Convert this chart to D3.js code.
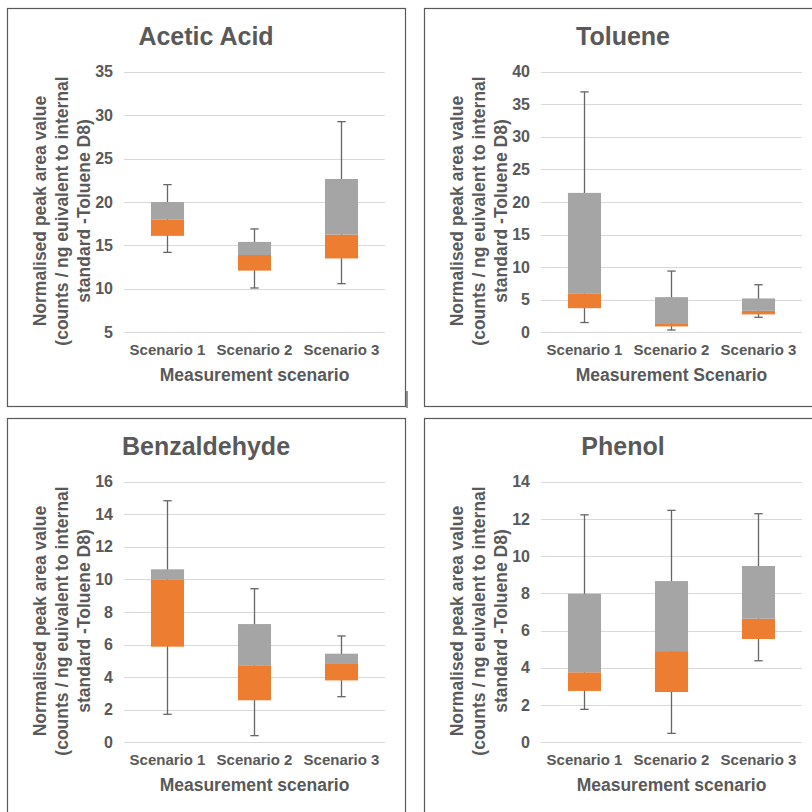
<!DOCTYPE html>
<html>
<head>
  <meta charset="utf-8">
  <title>Normalised peak areas</title>
  <script src="https://d3js.org/d3.v7.min.js"></script>
  <style>
    body { margin: 0; background: #fff; }
    text { font-family: "Liberation Sans", Arial, sans-serif; font-weight: bold; fill: #595959; }
    .grid line { stroke: #d9d9d9; stroke-width: 1px; shape-rendering: crispEdges; }
    .grid path, .cat path { display: none; }
    .frame { fill: none; stroke: #595959; stroke-width: 1.2px; }
    .whisker { stroke: #666; stroke-width: 1.3px; }
  </style>
</head>
<body>
  <script>
    var categories = ["Scenario 1", "Scenario 2", "Scenario 3"];
    var compounds = ["Acetic Acid", "Toluene", "Benzaldehyde", "Phenol"];
    var xTitles = ["Measurement scenario", "Measurement Scenario", "Measurement scenario", "Measurement scenario"];
    var yTitle = ["Normalised peak area value", "(counts / ng euivalent to internal", "standard -Toluene D8)"];

    // y axis range and tick step per compound
    var yDomains = [[5, 35], [0, 40], [0, 16], [0, 14]];
    var yStep = [5, 5, 2, 2];

    // box statistics, one row per compound, one value per scenario
    var minVals    = [[14.2, 10.1, 10.6], [1.5, 0.35, 2.3], [1.72, 0.41, 2.8], [1.77, 0.48, 4.38]];
    var q1Vals     = [[16.1, 12.1, 13.5], [3.7, 0.9, 2.75], [5.87, 2.58, 3.8], [2.76, 2.7, 5.55]];
    var medianVals = [[18.0, 13.9, 16.25], [5.9, 1.4, 3.3], [10.0, 4.73, 4.81], [3.76, 4.9, 6.64]];
    var q3Vals     = [[20.0, 15.4, 22.65], [21.4, 5.4, 5.2], [10.62, 7.26, 5.44], [7.98, 8.66, 9.47]];
    var maxVals    = [[22.0, 16.9, 29.25], [36.9, 9.4, 7.3], [14.83, 9.43, 6.53], [12.22, 12.46, 12.28]];

    var orange = "#ed7d31", grey = "#a5a5a5";
    var plotLeft = 124, plotRight = 385, plotTop = 71.7, plotBottom = 332.3;

    var svg = d3.select("body").append("svg")
        .attr("width", 812)
        .attr("height", 812);

    compounds.forEach(function(name, i) {
      var ox = (i % 2) * 417, oy = Math.floor(i / 2) * 410;
      var g = svg.append("g").attr("transform", "translate(" + ox + "," + oy + ")");

      g.append("rect")
          .attr("class", "frame")
          .attr("x", 7.5).attr("y", 8.5)
          .attr("width", 398).attr("height", 398);

      var x = d3.scaleBand()
          .domain(categories)
          .range([plotLeft, plotRight])
          .paddingInner(0.62)
          .paddingOuter(0.31);

      var y = d3.scaleLinear()
          .domain(yDomains[i])
          .range([plotBottom, plotTop]);

      var ticks = d3.range(yDomains[i][0], yDomains[i][1] + 1e-9, yStep[i]);

      g.append("g")
          .attr("class", "grid")
          .attr("transform", "translate(" + plotLeft + ",0)")
          .call(d3.axisLeft(y).tickValues(ticks).tickSize(-(plotRight - plotLeft)).tickPadding(11))
          .selectAll("text")
          .style("font-size", "16px")
          .attr("fill", "#595959");

      g.append("g")
          .attr("class", "cat")
          .attr("transform", "translate(0," + plotBottom + ")")
          .call(d3.axisBottom(x).tickSize(0).tickPadding(12))
          .selectAll("text")
          .style("font-size", "15px")
          .attr("fill", "#595959");

      var boxes = g.selectAll(".box")
          .data(categories)
          .enter().append("g")
          .attr("class", "box");

      var half = 4.2;
      boxes.append("line")
          .attr("class", "whisker")
          .attr("x1", function(d) { return x(d) + x.bandwidth() / 2; })
          .attr("x2", function(d) { return x(d) + x.bandwidth() / 2; })
          .attr("y1", function(d, j) { return y(minVals[i][j]); })
          .attr("y2", function(d, j) { return y(maxVals[i][j]); });
      boxes.append("line")
          .attr("class", "whisker")
          .attr("x1", function(d) { return x(d) + x.bandwidth() / 2 - half; })
          .attr("x2", function(d) { return x(d) + x.bandwidth() / 2 + half; })
          .attr("y1", function(d, j) { return y(maxVals[i][j]); })
          .attr("y2", function(d, j) { return y(maxVals[i][j]); });
      boxes.append("line")
          .attr("class", "whisker")
          .attr("x1", function(d) { return x(d) + x.bandwidth() / 2 - half; })
          .attr("x2", function(d) { return x(d) + x.bandwidth() / 2 + half; })
          .attr("y1", function(d, j) { return y(minVals[i][j]); })
          .attr("y2", function(d, j) { return y(minVals[i][j]); });

      // lower part of box (Q1 - median)
      boxes.append("rect")
          .attr("x", function(d) { return x(d); })
          .attr("width", x.bandwidth())
          .attr("y", function(d, j) { return y(medianVals[i][j]); })
          .attr("height", function(d, j) { return y(q1Vals[i][j]) - y(medianVals[i][j]); })
          .attr("fill", orange);

      // upper part of box (median - Q3)
      boxes.append("rect")
          .attr("x", function(d) { return x(d); })
          .attr("width", x.bandwidth())
          .attr("y", function(d, j) { return y(q3Vals[i][j]); })
          .attr("height", function(d, j) { return y(medianVals[i][j]) - y(q3Vals[i][j]); })
          .attr("fill", grey);

      g.append("text")
          .attr("x", 206)
          .attr("y", 45)
          .attr("text-anchor", "middle")
          .style("font-size", "25px")
          .text(name);

      g.append("text")
          .attr("x", (plotLeft + plotRight) / 2)
          .attr("y", 381)
          .attr("text-anchor", "middle")
          .style("font-size", "17.5px")
          .text(xTitles[i]);

      var yt = g.append("g").attr("transform", "translate(46,211) rotate(-90)");
      yTitle.forEach(function(line, k) {
        yt.append("text")
            .attr("x", 0)
            .attr("y", k * 22)
            .attr("text-anchor", "middle")
            .style("font-size", "17.5px")
            .text(line);
      });
    });

    // small stray border tick next to the first panel
    svg.append("line")
        .attr("x1", 407).attr("x2", 407)
        .attr("y1", 391).attr("y2", 408)
        .attr("stroke", "#595959")
        .attr("stroke-width", 1.3);
  </script>
</body>
</html>
